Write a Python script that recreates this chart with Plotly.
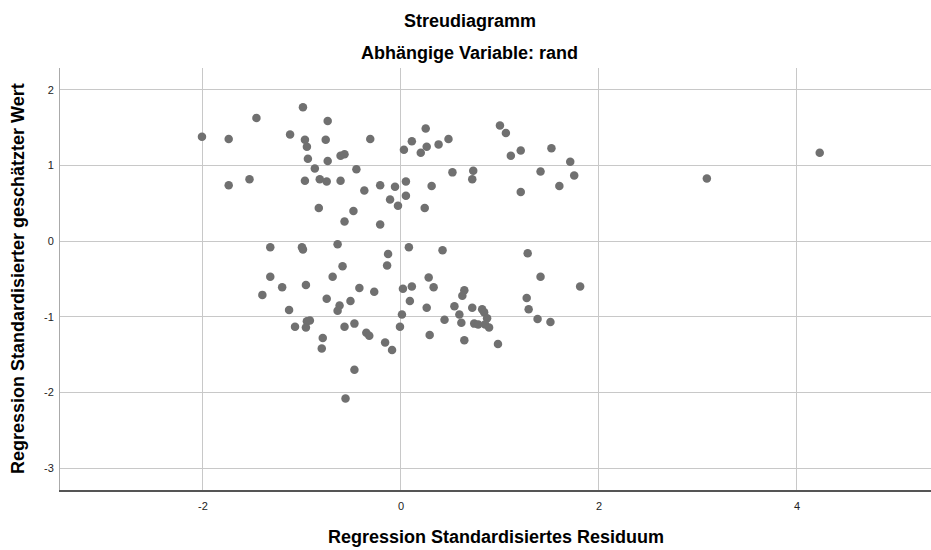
import plotly.graph_objects as go

# Regression Standardisiertes Residuum (x) / Standardisierter geschätzter Wert (y)
resid_x = [
    -2.01, -1.74, -1.46, -0.99, -0.74, -1.12, -0.97, -0.95, -0.76, -0.31,
    -0.94, -0.74, -0.61, -0.57, -0.87, -0.45, -1.74, -1.53, -0.97, -0.82,
    -0.75, -0.61, -0.37, -0.21, -0.06, 0.05, 0.05, -0.11, -0.03, -0.83,
    -0.48, -0.57, -0.21, 0.24, 0.03, 0.11, 0.20, 0.25, 0.26, 0.38,
    0.48, 1.00, 1.06, 1.11, 1.21, 1.52, 1.71, 1.41, 1.75, 1.60,
    1.21, 0.52, 0.73, 0.72, 0.31, 3.09, 4.23,
    -1.32, -1.00, -0.99, -0.64, 0.08, -0.13, -0.14, -0.59, -1.32, -1.20,
    -0.96, -0.69, -1.40, -1.13, -0.75, -0.62, -0.64, -0.51, -0.42, -0.27,
    0.02, 0.11, 0.09, 0.01, -0.01, -0.92, -0.95, -1.07, -0.96, -0.79,
    -0.80, -0.57, -0.47, -0.35, -0.32, -0.16, -0.09, -0.47, -0.56, 0.42,
    1.28, 1.41, 1.81, 1.27, 1.29, 1.38, 1.51, 0.28, 0.33, 0.26,
    0.29, 0.44, 0.54, 0.59, 0.61, 0.64, 0.62, 0.72, 0.74, 0.78,
    0.82, 0.84, 0.87, 0.85, 0.89, 0.64, 0.98,
]
pred_y = [
    1.38, 1.35, 1.63, 1.77, 1.59, 1.41, 1.34, 1.25, 1.34, 1.35,
    1.09, 1.06, 1.13, 1.15, 0.96, 0.95, 0.74, 0.82, 0.80, 0.82,
    0.79, 0.80, 0.67, 0.74, 0.72, 0.79, 0.60, 0.55, 0.47, 0.44,
    0.40, 0.26, 0.22, 0.44, 1.21, 1.32, 1.17, 1.49, 1.25, 1.28,
    1.35, 1.53, 1.43, 1.13, 1.20, 1.23, 1.05, 0.92, 0.87, 0.73,
    0.65, 0.91, 0.93, 0.82, 0.73, 0.83, 1.17,
    -0.08, -0.08, -0.11, -0.04, -0.08, -0.17, -0.32, -0.33, -0.47, -0.61,
    -0.58, -0.47, -0.71, -0.91, -0.76, -0.85, -0.92, -0.79, -0.62, -0.67,
    -0.63, -0.60, -0.79, -0.97, -1.13, -1.05, -1.06, -1.13, -1.14, -1.28,
    -1.42, -1.13, -1.09, -1.21, -1.25, -1.34, -1.44, -1.70, -2.08, -0.12,
    -0.16, -0.47, -0.60, -0.75, -0.90, -1.03, -1.07, -0.48, -0.61, -0.88,
    -1.24, -1.04, -0.86, -0.97, -1.08, -0.65, -0.72, -0.88, -1.09, -1.10,
    -0.90, -0.94, -1.02, -1.10, -1.14, -1.31, -1.36,
]

x_ticks = [-2, 0, 2, 4]
y_ticks = [-3, -2, -1, 0, 1, 2]

title_text = "Streudiagramm"
subtitle_text = "Abhängige Variable: rand"
x_title = "Regression Standardisiertes Residuum"
y_title = "Regression Standardisierter geschätzter Wert"

FONT = "Liberation Sans, Arial, sans-serif"

fig = go.Figure()
fig.add_trace(go.Scatter(
    x=resid_x, y=pred_y, mode="markers",
    marker=dict(size=8.5, color="#707070", line=dict(width=0)),
    hoverinfo="x+y", showlegend=False,
))

fig.update_layout(
    width=931, height=550,
    margin=dict(l=60, r=0, t=68, b=60, autoexpand=False),
    paper_bgcolor="white", plot_bgcolor="white",
    font=dict(family=FONT, color="#000000"),
    annotations=[
        dict(text="<b>" + title_text + "</b>", xref="paper", yref="paper",
             x=0.4707, y=1, yshift=47, xanchor="center", yanchor="middle",
             showarrow=False, font=dict(size=18, family=FONT)),
        dict(text="<b>" + subtitle_text + "</b>", xref="paper", yref="paper",
             x=0.4707, y=1, yshift=15, xanchor="center", yanchor="middle",
             showarrow=False, font=dict(size=18, family=FONT)),
        dict(text="<b>" + x_title + "</b>", xref="paper", yref="paper",
             x=0.5, y=0, yshift=-47, xanchor="center", yanchor="middle",
             showarrow=False, font=dict(size=18, family=FONT)),
        dict(text="<b>" + y_title + "</b>", xref="paper", yref="paper",
             x=0, y=0.5, xshift=-42, xanchor="center", yanchor="middle",
             textangle=-90, showarrow=False, font=dict(size=18, family=FONT)),
    ],
)

fig.update_xaxes(
    range=[-3.444, 5.354], tickvals=x_ticks, ticktext=[str(v) for v in x_ticks],
    showgrid=True, gridcolor="#c8c8c8", gridwidth=1, zeroline=False,
    showline=True, linecolor="#555555", linewidth=1.5,
    ticks="", ticklabelstandoff=5, automargin=False,
    tickfont=dict(size=11, family=FONT, color="#222222"),
)
fig.update_yaxes(
    range=[-3.29, 2.29], tickvals=y_ticks, ticktext=[str(v) for v in y_ticks],
    showgrid=True, gridcolor="#c8c8c8", gridwidth=1, zeroline=False,
    showline=True, linecolor="#aaaaaa", linewidth=1,
    ticks="", ticklabelstandoff=3, automargin=False,
    tickfont=dict(size=11, family=FONT, color="#222222"),
)

fig.write_html(
    "out.html",
    config={"displayModeBar": False},
    post_script="document.body.style.margin='0';document.body.style.overflow='hidden';",
)
